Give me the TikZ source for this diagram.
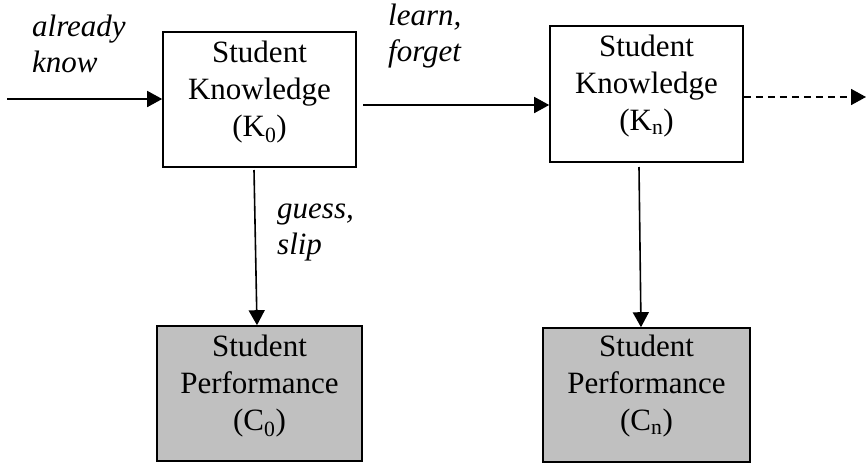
\documentclass[tikz,border=0pt]{standalone}
\usepackage{fontspec}
\setmainfont{Liberation Serif}
\usetikzlibrary{arrows.meta}
\definecolor{perfgray}{HTML}{C0C0C0}
\begin{document}
\begin{tikzpicture}[x=1pt,y=-1pt,
  box/.style={draw=black,line width=1.6pt,rectangle,inner sep=0pt},
  txt/.style={align=center,inner sep=0pt,font=\fontsize{31}{37}\selectfont},
  lbl/.style={align=left,inner sep=0pt,anchor=west,font=\fontsize{31}{36}\selectfont\itshape},
  arr/.style={line width=1.6pt,-{Triangle[length=15pt,width=16pt]}}]
\useasboundingbox (0,0) rectangle (867,464);
% boxes
\node[box,minimum width=193pt,minimum height=135pt] (k0) at (259.5,99.5) {};
\node[box,minimum width=193pt,minimum height=136pt] (kn) at (646.5,94) {};
\node[box,fill=perfgray,minimum width=205pt,minimum height=135pt] (c0) at (259.5,393.5) {};
\node[box,fill=perfgray,minimum width=207pt,minimum height=134pt] (cn) at (646.5,395) {};
% texts
\node[txt] (k0t) at (259.5,92) {Student\\Knowledge\\(K\textsubscript{0})};
\node[txt] (knt) at (646.5,86) {Student\\Knowledge\\(K\textsubscript{n})};
\node[txt] (c0t) at (259.5,386) {Student\\Performance\\(C\textsubscript{0})};
\node[txt] (cnt) at (646.5,386) {Student\\Performance\\(C\textsubscript{n})};
% labels
\node[lbl] (lk) at (32,44) {already\\know};
\node[lbl] (ll) at (388,36) {learn,\\forget};
\node[lbl] (lg) at (277,232) {guess,\\slip};
% connectors
\coordinate (in) at (7,99);
\coordinate (m1) at (363,105);
\coordinate (out) at (866,97);
\coordinate (v1s) at (254,170);
\coordinate (v1e) at (257,0);
\coordinate (v2s) at (639,167);
\coordinate (v2e) at (641,0);
\draw[arr] (in) -- (k0.west |- in);
\draw[arr] (m1) -- (kn.west |- m1);
\draw[arr,dashed,dash pattern=on 7pt off 5pt] (kn.east |- out) -- (out);
\draw[arr] (v1s) -- (c0.north -| v1e);
\draw[arr] (v2s) -- (cn.north -| v2e);
\end{tikzpicture}
\end{document}
